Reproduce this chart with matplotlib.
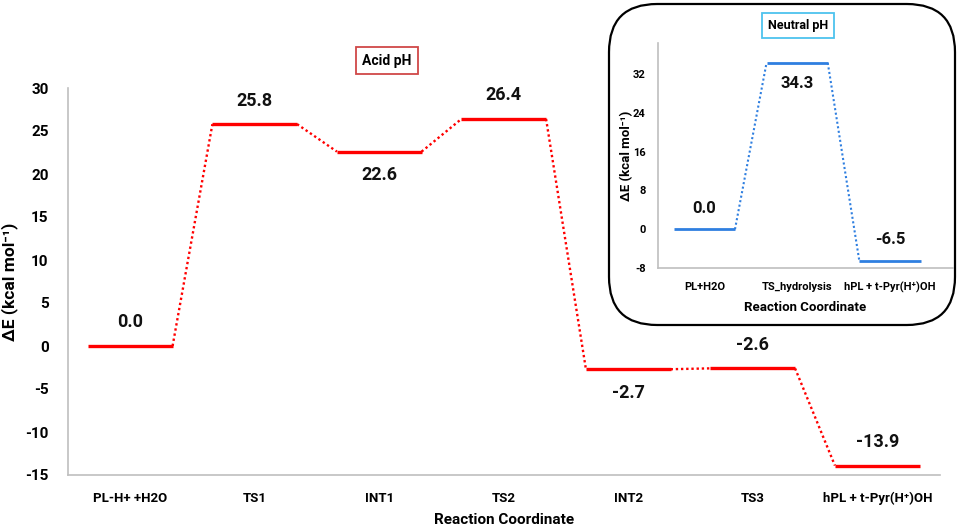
import matplotlib
matplotlib.use("Agg")
import matplotlib.pyplot as plt
from matplotlib.patches import FancyBboxPatch

plt.rcParams['font.family'] = ['Roboto', 'DejaVu Sans']
plt.rcParams['font.weight'] = 'bold'

# ---- data ----
acid_labels = ["PL-H+ +H2O", "TS1", "INT1", "TS2", "INT2", "TS3", "hPL + t-Pyr(H\u207a)OH"]
acid_values = [0.0, 25.8, 22.6, 26.4, -2.7, -2.6, -13.9]
acid_label_pos = ["above", "above", "below", "above", "below", "above", "above"]
acid_yticks = [-15, -10, -5, 0, 5, 10, 15, 20, 25, 30]

neutral_labels = ["PL+H2O", "TS_hydrolysis", "hPL + t-Pyr(H\u207a)OH"]
neutral_values = [0.0, 34.3, -6.5]
neutral_label_pos = ["above", "below", "above"]
neutral_yticks = [-8, 0, 8, 16, 24, 32]

RED = "#FF0000"
BLUE = "#2F7FE0"
GRAY = "#BFBFBF"

fig = plt.figure(figsize=(9.63, 5.32), dpi=100)

def draw_profile(ax, values, positions, color, hw, lw, dlw, fs, off):
    n = len(values)
    for i, v in enumerate(values):
        ax.plot([i - hw, i + hw], [v, v], color=color, lw=lw, solid_capstyle='butt')
        dy = off if positions[i] == "above" else -off
        ax.annotate(f"{v:.1f}", (i, v), xytext=(0, dy), textcoords='offset points',
                    ha='center', va='center', fontsize=fs, fontweight='bold', color='#111111')
    for i in range(n - 1):
        ax.plot([i + hw, i + 1 - hw], [values[i], values[i + 1]], color=color,
                lw=dlw, linestyle=(0, (1, 1.2)))

def style(ax):
    for s in ['top', 'right']:
        ax.spines[s].set_visible(False)
    for s in ['left', 'bottom']:
        ax.spines[s].set_color(GRAY)
        ax.spines[s].set_linewidth(1.2)
    ax.tick_params(length=0)

# ---- main axes ----
ax = fig.add_axes([68/963, 1 - 475/532, (939.5 - 68)/963, (475 - 88)/532])
style(ax)
draw_profile(ax, acid_values, acid_label_pos, RED, 0.34, 2.4, 1.7, 13, 17)
ax.set_xlim(-0.5, len(acid_values) - 0.5)
ax.set_ylim(-15, 30)
ax.set_yticks(acid_yticks)
ax.set_yticklabels([str(t) for t in acid_yticks], fontsize=11, fontweight='bold')
ax.tick_params(axis='y', pad=14)
ax.set_xticks(range(len(acid_labels)))
ax.set_xticklabels(acid_labels, fontsize=9.5, fontweight='bold')
ax.tick_params(axis='x', pad=12)
ax.set_xlabel("Reaction Coordinate", fontsize=11, fontweight='bold', labelpad=6)
ax.set_ylabel("\u0394E (kcal mol\u207b\u00b9)", fontsize=12.5, fontweight='bold')
ax.yaxis.set_label_coords((18 - 68) / 871.5, 0.5)

fig.text(387/963, 1 - 60.5/532, "Acid pH", ha='center', va='center', fontsize=10,
         fontweight='bold',
         bbox=dict(boxstyle='square,pad=0.45', fc='white', ec='#D04848', lw=1.3))

# ---- inset rounded box ----
box = FancyBboxPatch((609/963, 1 - 325/532), (955 - 609)/963, (325 - 4)/532,
                     boxstyle="round,pad=0,rounding_size=0.05", transform=fig.transFigure,
                     fc='white', ec='black', lw=1.6, mutation_aspect=963/532)
fig.add_artist(box)

ins = fig.add_axes([658/963, 1 - 268/532, (953 - 658)/963, (268 - 43)/532])
ins.set_zorder(5)
style(ins)
ins.patch.set_alpha(0)
draw_profile(ins, neutral_values, neutral_label_pos, BLUE, 0.33, 2.0, 1.5, 12, 15)
ins.set_xlim(-0.5, 2.5 + 0.18)
ins.set_ylim(-8, 38.4)
ins.set_yticks(neutral_yticks)
ins.set_yticklabels([str(t) for t in neutral_yticks], fontsize=8, fontweight='bold')
ins.tick_params(axis='y', pad=9)
ins.set_xticks(range(len(neutral_labels)))
ins.set_xticklabels(neutral_labels, fontsize=8, fontweight='bold')
ins.tick_params(axis='x', pad=10)
ins.set_xlabel("Reaction Coordinate", fontsize=9.5, fontweight='bold', labelpad=6)
ins.set_ylabel("\u0394E (kcal mol\u207b\u00b9)", fontsize=9.5, fontweight='bold')
ins.yaxis.set_label_coords((633 - 658) / 295, 0.5)

fig.text(798/963, 1 - 25.5/532, "Neutral pH", ha='center', va='center', fontsize=9,
         fontweight='bold', zorder=10,
         bbox=dict(boxstyle='square,pad=0.5', fc='white', ec='#4DC3EE', lw=1.3))

fig.savefig("out.png", dpi=100)
